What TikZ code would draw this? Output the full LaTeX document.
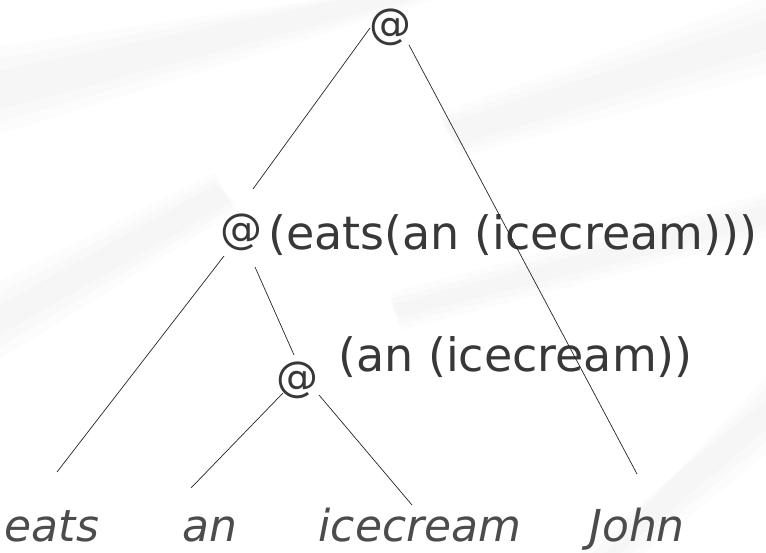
\documentclass[tikz,border=0pt]{standalone}
\usepackage{fontspec}
\setmainfont{DejaVu Sans}
\begin{document}
\begin{tikzpicture}[x=1pt,y=-1pt,
  ink/.style={text=black!78},
  appnode/.style={ink,inner sep=0pt,font=\fontsize{42}{42}\selectfont},
  termlabel/.style={ink,inner sep=0pt,anchor=west,font=\fontsize{46}{46}\selectfont},
  leaf/.style={text=black!70,inner sep=0pt,anchor=base,font=\fontsize{44}{44}\selectfont\itshape},
  edge/.style={black!85,line width=0.7pt},
  streak/.style={black,opacity=0.012}]
  % canvas with a faint streaked paper look
  \fill[white] (0,0) rectangle (766,553);
  \useasboundingbox (0,0) rectangle (766,553);
  \foreach \w in {0,12,24} {
    \fill[streak] (0,70-\w) -- (340-\w,0) -- (410+\w,0) -- (0,110+\w) -- cycle;
    \fill[streak] (440,125-\w/2) -- (766,20-\w) -- (766,50+\w) -- (460,145+\w/2) -- cycle;
    \fill[streak] (0,305-\w) -- (215,185-\w/2) -- (235,200+\w/2) -- (0,335+\w) -- cycle;
    \fill[streak] (580+\w,553) -- (766,400-\w) -- (766,430+\w) -- (620+\w,553) -- cycle;
    \fill[streak] (390,305-\w/2) -- (766,205-\w/2) -- (766,225+\w/2) -- (400,318+\w/2) -- cycle;
  }

  % application nodes
  \node[appnode] (root) at (390,27) {@};
  \node[appnode] (m) at (241,232) {@};
  \node[appnode] (l) at (297,380) {@};

  % terms attached to the inner applications
  \node[termlabel] (mterm) at (268,235) {(eats(an (icecream)))};
  \node[termlabel] (lterm) at (338,357) {(an (icecream))};

  % leaves
  \node[leaf] (eats) at (52,541) {eats};
  \node[leaf] (an) at (210,541) {an};
  \node[leaf] (icecream) at (420,541) {icecream};
  \node[leaf] (john) at (637,541) {John};

  % tree edges
  \draw[edge] ([shift={(-20,1)}]root.center) -- ([shift={(12,-43)}]m.center);
  \draw[edge] ([shift={(19,18)}]root.center) -- ([shift={(0,-67)}]john.base);
  \draw[edge] ([shift={(-17,24)}]m.center) -- ([shift={(5,-69)}]eats.base);
  \draw[edge] ([shift={(14,35)}]m.center) -- ([shift={(-3,-25)}]l.center);
  \draw[edge] ([shift={(-14,13)}]l.center) -- ([shift={(-19,-53)}]an.base);
  \draw[edge] ([shift={(22,15)}]l.center) -- ([shift={(-8,-36)}]icecream.base);
\end{tikzpicture}
\end{document}
